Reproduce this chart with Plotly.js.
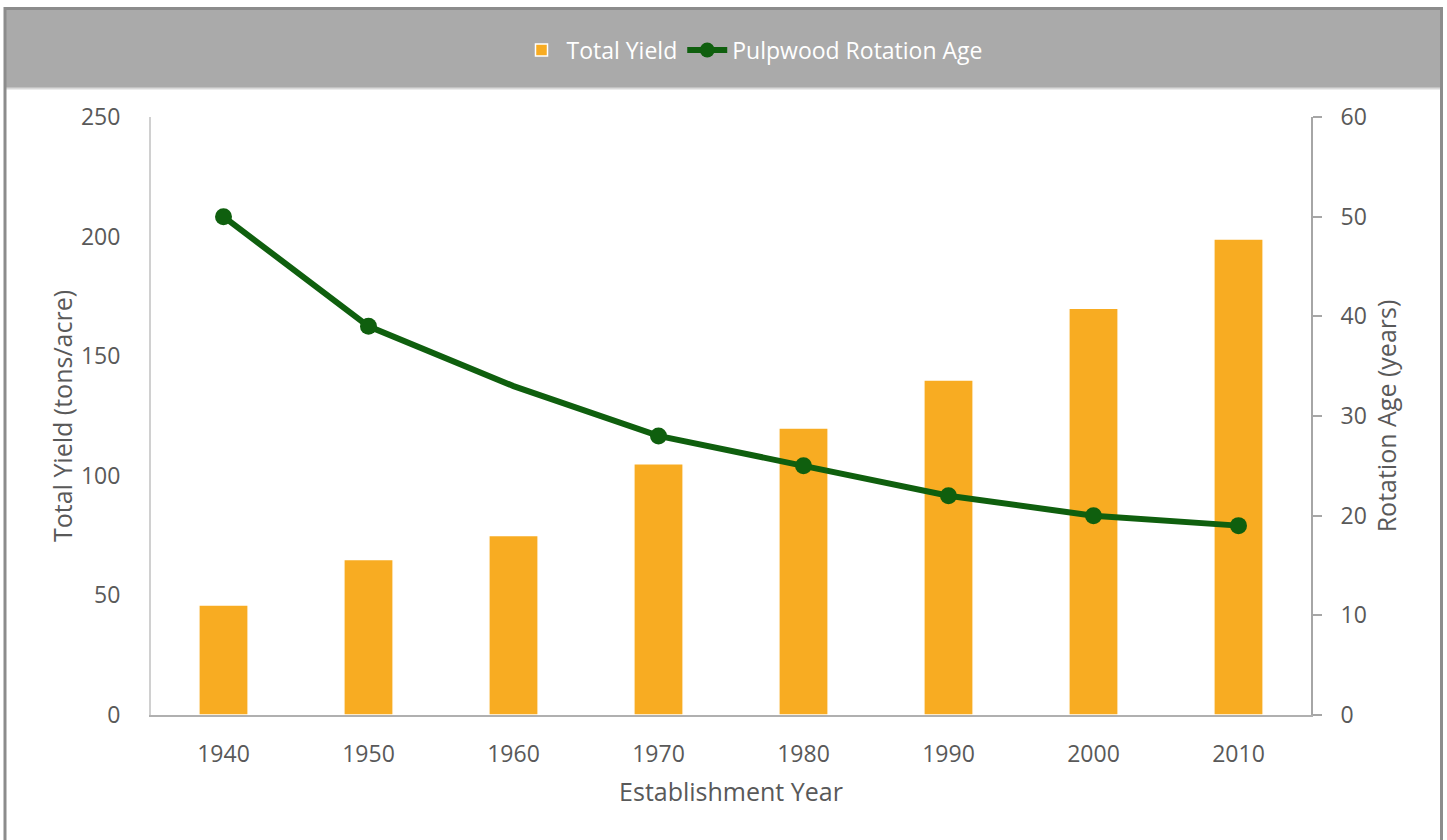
<!DOCTYPE html>
<html>
<head>
<meta charset="utf-8">
<script src="https://cdn.plot.ly/plotly-3.0.1.min.js"></script>
<style>html,body{margin:0;padding:0;background:#fff;}#chart{width:1447px;height:840px;}</style>
</head>
<body>
<div id="chart"></div>
<script>
const years = ["1940","1950","1960","1970","1980","1990","2000","2010"];
const totalYield = [46, 65, 75, 105, 120, 140, 170, 199];
const rotationAge = [50, 39, 33, 28, 25, 22, 20, 19];
const yieldTicks = [0, 50, 100, 150, 200, 250];
const ageTicks = [0, 10, 20, 30, 40, 50, 60];

const FONT = "'Open Sans', sans-serif";
const TXT = "#595959";

// pixel -> paper helpers for decoration
const L = 151, R = 136, T = 117, B = 125, W = 1447, H = 840;
const pw = W - L - R, ph = H - T - B;
const px = x => (x - L) / pw;
const py = y => (H - B - y) / ph;

const traces = [
  {
    type: "bar", name: "Total Yield", x: years, y: totalYield,
    marker: {color: "#F8AC22", line: {color: "#ffffff", width: 1.5}},
    yaxis: "y"
  },
  {
    type: "scatter", mode: "lines+markers", name: "Pulpwood Rotation Age",
    x: years, y: rotationAge, yaxis: "y2",
    line: {color: "#0F5F0E", width: 6},
    marker: {color: "#0F5F0E", opacity: 1, line: {width: 0}, size: [17,17,0,17,17,17,17,17]}
  }
];

const layout = {
  width: W, height: H,
  margin: {l: L, r: R, t: T, b: B, pad: 0},
  paper_bgcolor: "#ffffff", plot_bgcolor: "#ffffff",
  font: {family: FONT, size: 23, color: TXT},
  bargap: 0.66,
  showlegend: true,
  legend: {
    orientation: "h", x: px(752), xanchor: "center", y: py(50), yanchor: "middle",
    bgcolor: "rgba(0,0,0,0)", font: {color: "#ffffff", size: 23, family: FONT},
    itemwidth: 40, tracegroupgap: 0
  },
  xaxis: {
    type: "category", showgrid: false, zeroline: false,
    showline: true, linecolor: "#b0b0b0", linewidth: 2,
    ticks: "outside", ticklen: 17, tickcolor: "rgba(0,0,0,0)",
    tickfont: {size: 23, color: TXT},
    title: {text: "Establishment Year", font: {size: 25, color: TXT}}
  },
  yaxis: {
    range: [0, 250], tickvals: yieldTicks, showgrid: false, zeroline: false,
    showline: true, linecolor: "#d0d0d0", linewidth: 2,
    ticks: "outside", ticklen: 24, tickcolor: "rgba(0,0,0,0)",
    tickfont: {size: 23, color: TXT},
    title: {text: "Total Yield (tons/acre)", font: {size: 25, color: TXT}}
  },
  yaxis2: {
    overlaying: "y", side: "right", range: [0, 60], tickvals: ageTicks,
    showgrid: false, zeroline: false,
    showline: true, linecolor: "#a6a6a6", linewidth: 2,
    ticks: "outside", ticklen: 9, tickcolor: "#a6a6a6", tickwidth: 2,
    ticklabelstandoff: 14,
    tickfont: {size: 23, color: TXT},
    title: {text: "Rotation Age (years)", font: {size: 25, color: TXT}}
  },
  shapes: [
    {type: "rect", xref: "paper", yref: "paper", layer: "below",
     x0: px(5), x1: px(1441.5), y0: py(8.5), y1: py(88),
     fillcolor: "#AAAAAA", line: {width: 0}},
    {type: "line", xref: "paper", yref: "paper", layer: "below",
     x0: px(5), x1: px(1441.5), y0: py(88.5), y1: py(88.5),
     line: {color: "#d9d9d9", width: 2}},
    {type: "rect", xref: "paper", yref: "paper", layer: "above",
     x0: px(5), x1: px(1441.5), y0: py(8.5), y1: py(860),
     fillcolor: "rgba(0,0,0,0)", line: {color: "#8c8c8c", width: 3}}
  ]
};

Plotly.newPlot("chart", traces, layout, {displayModeBar: false, staticPlot: true});
</script>
</body>
</html>
